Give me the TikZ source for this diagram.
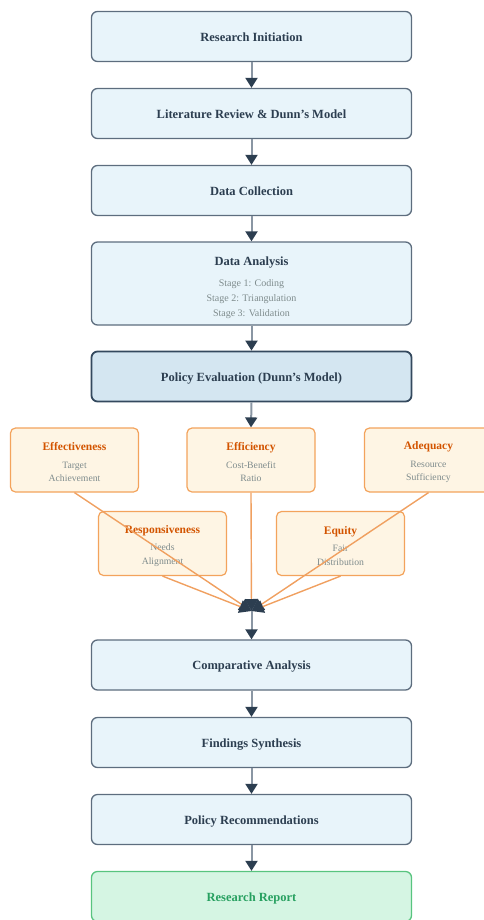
\documentclass[tikz,border=0pt]{standalone}
\usepackage{fontspec}
\setmainfont{Liberation Serif}
\usetikzlibrary{arrows.meta}
\definecolor{boxfill}{HTML}{E8F4FA}
\definecolor{boxborder}{HTML}{5D6D7E}
\definecolor{evalfill}{HTML}{D4E6F1}
\definecolor{evalborder}{HTML}{34495E}
\definecolor{textdark}{HTML}{2C3E50}
\definecolor{subtext}{HTML}{7F8C8D}
\definecolor{critfill}{HTML}{FEF5E4}
\definecolor{critborder}{HTML}{F3A35C}
\definecolor{crittext}{HTML}{D35400}
\definecolor{linkorange}{HTML}{F0A060}
\definecolor{repfill}{HTML}{D5F5E3}
\definecolor{repborder}{HTML}{58C47F}
\definecolor{reptext}{HTML}{27A060}
\definecolor{arrowline}{HTML}{8A96A3}
\tikzset{
  boxbase/.style={draw=boxborder, fill=boxfill, line width=1.3pt, rounded corners=6pt,
    minimum width=320pt, minimum height=50pt, inner sep=0pt, align=center,
    text=textdark, font=\fontsize{12.5}{15}\selectfont\bfseries},
  mainbox/.style={boxbase, text height=11.5pt, text depth=2pt},
  evalbox/.style={mainbox, draw=evalborder, fill=evalfill, line width=1.8pt},
  repbox/.style={mainbox, draw=repborder, fill=repfill, text=reptext},
  critbox/.style={draw=critborder, fill=critfill, line width=1.2pt, rounded corners=5pt,
    minimum width=128pt, minimum height=64pt, inner sep=0pt, align=center,
    text=subtext, font=\fontsize{9.7}{13.5}\selectfont},
  flow/.style={draw=arrowline, line width=2pt,
    -{Triangle[width=12pt,length=10pt,color=textdark]}},
  merge/.style={draw=linkorange, line width=1.4pt,
    -{Triangle[width=13pt,length=12pt,color=textdark]}},
}
\newcommand{\crittitle}[1]{\rule{0pt}{13pt}\textcolor{crittext}{\fontsize{11.5}{13}\selectfont\bfseries #1}\\[4pt]}
\newcommand{\stagefont}{\mdseries\color{subtext}\fontsize{10}{15.5}\selectfont}
\begin{document}
\begin{tikzpicture}[x=1pt,y=-1pt]
\useasboundingbox (0,0) rectangle (483,920);
\node[mainbox] (n1) at (251.5,36.5) {Research Initiation};
\node[mainbox] (n2) at (251.5,113.5) {Literature Review \& Dunn's Model};
\node[mainbox] (n3) at (251.5,190.5) {Data Collection};
\node[boxbase, minimum height=83pt] (n4) at (251.5,283.5)
  {\rule{0pt}{17.5pt}Data Analysis\\[6pt]\stagefont Stage 1: Coding\\\stagefont Stage 2: Triangulation\\\stagefont Stage 3: Validation};
\node[evalbox] (n5) at (251.5,376.5) {Policy Evaluation (Dunn's Model)};

\node[critbox] (e1) at (74.5,460) {\crittitle{Effectiveness}Target\\Achievement};
\node[critbox] (e2) at (251,460) {\crittitle{Efficiency}Cost-Benefit\\Ratio};
\node[critbox] (e3) at (428.5,460) {\crittitle{Adequacy}Resource\\Sufficiency};
\node[critbox] (e4) at (162.5,543.5) {\crittitle{Responsiveness}Needs\\Alignment};
\node[critbox] (e5) at (340.5,543.5) {\crittitle{Equity}Fair\\Distribution};

\coordinate (j) at (251.5,611);

\node[mainbox] (n6) at (251.5,665) {Comparative Analysis};
\node[mainbox] (n7) at (251.5,742.5) {Findings Synthesis};
\node[mainbox] (n8) at (251.5,819.5) {Policy Recommendations};
\node[repbox] (n9) at (251.5,896.5) {Research Report};

\draw[flow] (n1) -- (n2);
\draw[flow] (n2) -- (n3);
\draw[flow] (n3) -- (n4);
\draw[flow] (n4) -- (n5);
\draw[flow] (n5.south) -- (e2.north);

\draw[merge] (e1.south) -- (j);
\draw[merge] (e3.south) -- (j);
\draw[merge] (e4.south) -- (j);
\draw[merge] (e5.south) -- (j);
\draw[merge] (e2.south) -- (j);

\draw[flow] (j) -- (n6.north);
\draw[flow] (n6) -- (n7);
\draw[flow] (n7) -- (n8);
\draw[flow] (n8) -- (n9);
\end{tikzpicture}
\end{document}
